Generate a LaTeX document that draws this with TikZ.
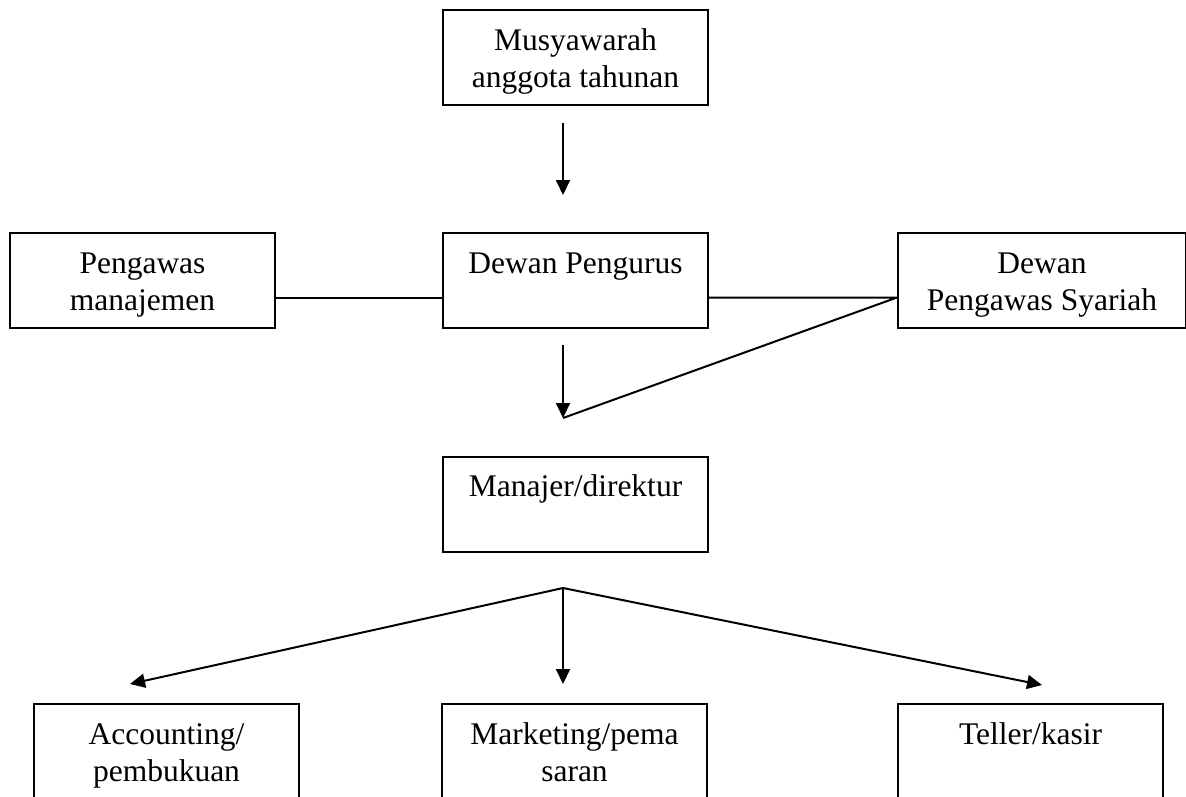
\documentclass[tikz,border=0pt]{standalone}
\usepackage{fontspec}
\setmainfont{Liberation Serif}
\usetikzlibrary{calc,arrows.meta}
\begin{document}
\begin{tikzpicture}[x=1pt,y=-1pt,
  box/.style={draw,line width=2pt,minimum width=265pt,minimum height=95pt,inner sep=0pt,anchor=north west},
  lbl/.style={font=\fontsize{31.5}{37}\selectfont,anchor=base,inner sep=0pt},
  conn/.style={line width=2pt,line join=round},
  arr/.style={line width=2pt,-{Triangle[length=15pt,width=14pt]}}]
\path[use as bounding box,clip] (0,0) rectangle (1186,796);
\fill[white] (0,0) rectangle (1186,796);
% boxes
\node[box] (mat) at (442,9) {};
\node[box] (pm) at (9,232) {};
\node[box] (dp) at (442,232) {};
\node[box,minimum width=288pt] (dps) at (897,232) {};
\node[box] (md) at (442,456) {};
\node[box,minimum height=140pt] (acc) at (33,703) {};
\node[box,minimum height=140pt] (mkt) at (441,703) {};
\node[box,minimum height=140pt] (tel) at (897,703) {};
% labels
\node[lbl] at ($(mat.north)+(0,41)$) {Musyawarah};
\node[lbl] at ($(mat.north)+(0,78)$) {anggota tahunan};
\node[lbl] at ($(pm.north)+(0,41)$) {Pengawas};
\node[lbl] at ($(pm.north)+(0,78)$) {manajemen};
\node[lbl] at ($(dp.north)+(0,41)$) {Dewan Pengurus};
\node[lbl] at ($(dps.north)+(0,41)$) {Dewan};
\node[lbl] at ($(dps.north)+(0,78)$) {Pengawas Syariah};
\node[lbl] at ($(md.north)+(0,40)$) {Manajer/direktur};
\node[lbl] at ($(acc.north)+(0,41)$) {Accounting/};
\node[lbl] at ($(acc.north)+(0,78)$) {pembukuan};
\node[lbl] at ($(mkt.north)+(0,41)$) {Marketing/pema};
\node[lbl] at ($(mkt.north)+(0,78)$) {saran};
\node[lbl] at ($(tel.north)+(0,41)$) {Teller/kasir};
% connectors
\coordinate (s1) at (563,123);
\coordinate (t1) at (563,195);
\coordinate (s2) at (563,345);
\coordinate (j1) at (563,418);
\coordinate (j2) at (563,588);
\coordinate (tacc) at (130,684);
\coordinate (tmkt) at (563,684);
\coordinate (ttel) at (1042,685);
\draw[arr] (s1) -- (t1);
\draw[conn] ($(pm.east)+(0,17)$) -- ($(dp.west)+(0,17)$);
\draw[conn] ($(dp.east)+(0,17)$) -- ($(dps.west)+(0,17)$) -- (j1);
\draw[arr] (s2) -- (j1);
\draw[arr] (j2) -- (tacc);
\draw[arr] (j2) -- (tmkt);
\draw[arr] (j2) -- (ttel);
\end{tikzpicture}
\end{document}
